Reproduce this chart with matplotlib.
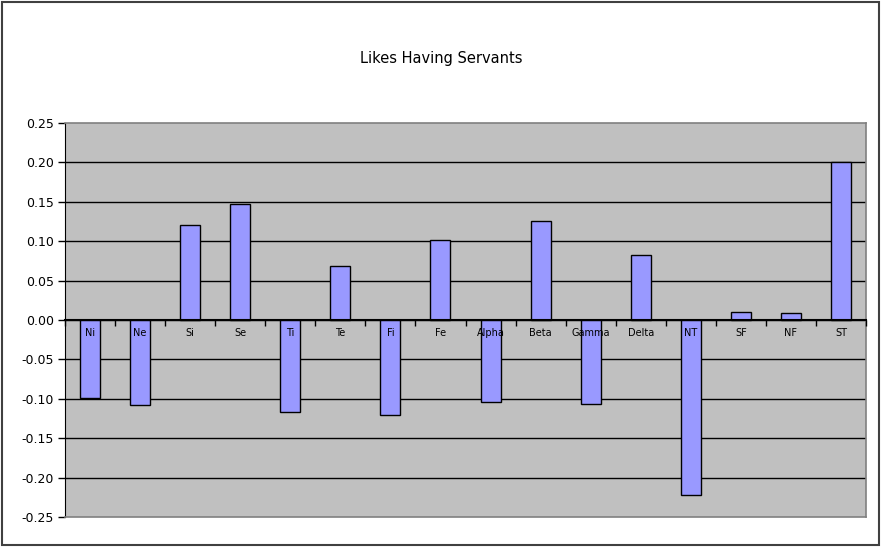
import numpy as np
import matplotlib
matplotlib.use('Agg')
import matplotlib.pyplot as plt
from matplotlib.patches import Rectangle

# valores
categorias = ['Ni', 'Ne', 'Si', 'Se', 'Ti', 'Te', 'Fi', 'Fe', 'Alpha', 'Beta',
              'Gamma', 'Delta', 'NT', 'SF', 'NF', 'ST']
valores = [-0.099, -0.108, 0.120, 0.147, -0.117, 0.069, -0.120, 0.102, -0.104,
           0.126, -0.107, 0.082, -0.222, 0.010, 0.0085, 0.201]
marcasY = [-0.25, -0.20, -0.15, -0.10, -0.05, 0.00, 0.05, 0.10, 0.15, 0.20, 0.25]

plt.rcParams['font.family'] = ['DejaVu Sans']
plt.rcParams['axes.unicode_minus'] = False

fig = plt.figure(figsize=(8.82, 5.48), dpi=100)
ax = fig.add_axes([65/882, 31/548, 801/882, 394/548])
ax.set_facecolor('#C0C0C0')

x = np.arange(len(categorias))

# lineas de rejilla
for v in marcasY[1:-1]:
    ax.axhline(v, color='black', lw=1, zorder=1)

ax.bar(x, valores, width=0.4, color='#9999FF', edgecolor='black', lw=1, zorder=2)

ax.set_xlim(-0.5, len(categorias) - 0.5)
ax.set_ylim(-0.25, 0.25)
ax.set_yticks(marcasY)
ax.set_yticklabels(['%.2f' % v for v in marcasY], fontsize=9)
ax.tick_params(axis='y', length=5, width=1, color='black', pad=3)

# eje x en cero
ax.spines['bottom'].set_position(('data', 0))
ax.spines['bottom'].set_color('black')
ax.spines['bottom'].set_linewidth(1.5)
ax.spines['bottom'].set_zorder(3)
ax.spines['left'].set_color('black')
ax.spines['top'].set_color('#808080')
ax.spines['right'].set_color('#808080')
ax.spines['top'].set_linewidth(1.2)
ax.spines['right'].set_linewidth(1.2)

ax.set_xticks(x)
ax.set_xticklabels(categorias, fontsize=7)
ax.tick_params(axis='x', which='major', length=0, pad=6)
ax.set_xticks(np.arange(len(categorias) + 1) - 0.5, minor=True)
ax.tick_params(axis='x', which='minor', length=4, width=1, color='black', direction='out')
ax.xaxis.set_zorder(5)  # etiquetas por encima de las barras

# borde inferior del area del grafico
ax.plot([0, 1], [0, 0], transform=ax.transAxes, color='#808080', lw=1.2, clip_on=False, zorder=3)

fig.text(0.5, 1 - 59/548, 'Likes Having Servants', ha='center', va='center', fontsize=10.5)

fig.patches.append(Rectangle((2/882, 3/548), 877/882, 543/548, transform=fig.transFigure,
                             fill=False, edgecolor='#404040', lw=1.5))

fig.savefig('out.png', dpi=100)
